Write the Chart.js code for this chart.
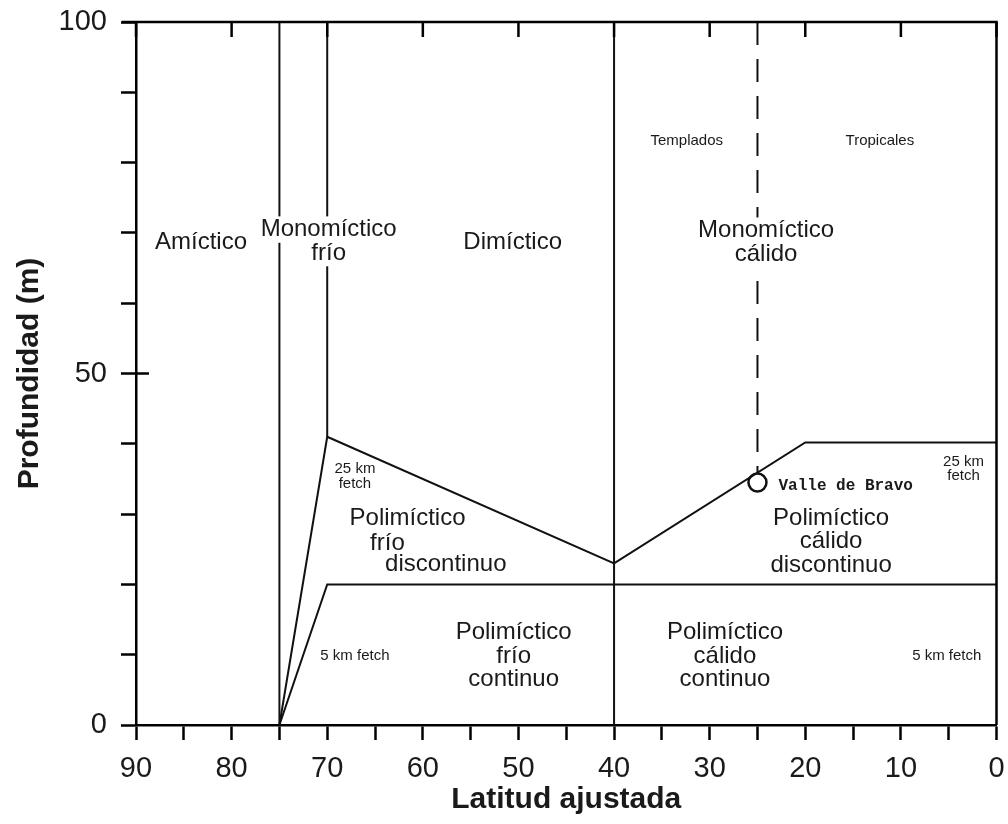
<!DOCTYPE html>
<html>
<head>
<meta charset="utf-8">
<script src="https://cdn.jsdelivr.net/npm/chart.js@4.4.1/dist/chart.umd.min.js"></script>
<style>
  html, body { margin: 0; padding: 0; background: #ffffff; }
  #wrap { width: 1008px; height: 824px; }
</style>
</head>
<body>
<div id="wrap"><canvas id="c" width="1008" height="824"></canvas></div>
<script>
// Lake mixing regimes by adjusted latitude (x, reversed) and depth (y)

// Boundary lines between regimes
const amicticX = [75, 75];
const amicticY = [0, 100];
const coldMonoX = [70, 70];
const coldMonoY = [41, 100];
const temperateX = [40, 40];
const temperateY = [0, 100];
const tropicalX = [25, 25];
const tropicalY = [100, 36];
const fetch25X = [75, 70, 40, 20, 0];
const fetch25Y = [0, 41, 23, 40.2, 40.2];
const fetch5X = [75, 70, 0];
const fetch5Y = [0, 20, 20];

// Valle de Bravo reservoir
const valleX = [25];
const valleY = [34.5];

// Tick labels
const xTickLabels = [90, 80, 70, 60, 50, 40, 30, 20, 10, 0];
const yTickLabels = [0, 50, 100];

// Region names, anchored in data units
const labelText = [
  'Amíctico', 'Monomíctico\nfrío', 'Dimíctico', 'Templados', 'Tropicales',
  'Monomíctico\ncálido', '25 km\nfetch', 'Polimíctico', 'frío', 'discontinuo',
  'Polimíctico\ncálido\ndiscontinuo', 'Valle de Bravo', '25 km\nfetch', '5 km fetch',
  'Polimíctico\nfrío\ncontinuo', 'Polimíctico\ncálido\ncontinuo', '5 km fetch'
];
const labelLat = [83.2, 69.85, 50.6, 32.4, 12.2, 24.1, 67.1, 61.6, 63.7, 57.6, 17.3, 22.8, 3.45, 67.1, 50.5, 28.4, 5.2];
const labelDepth = [68.6, 68.8, 68.6, 83.1, 83.1, 68.65, 35.4, 29.4, 25.9, 22.8, 26.1, 34.0, 36.4, 9.9, 9.8, 9.8, 9.9];
const labelKind = ['big', 'big', 'big', 'small', 'small', 'big', 'small', 'big', 'big', 'big', 'big', 'mono', 'small', 'small', 'big', 'big', 'small'];

const SANS = '"Liberation Sans", Arial, Helvetica, sans-serif';
const INK = '#1a1a1a';
const labelStyles = {
  big:   { font: '24px ' + SANS, size: 24, lh: 23.5, align: 'center' },
  small: { font: '15px ' + SANS, size: 15, lh: 14.5, align: 'center' },
  mono:  { font: 'bold 16px "Liberation Mono", "Courier New", monospace', size: 16, lh: 16, align: 'left' }
};

Chart.defaults.font.family = SANS;

const toPts = (xs, ys) => xs.map((v, i) => ({ x: v, y: ys[i] }));

const lineSet = (xs, ys, extra) => Object.assign({
  data: toPts(xs, ys),
  showLine: true,
  borderColor: '#111111',
  borderWidth: 2,
  pointRadius: 0,
  fill: false,
  clip: false,
  tension: 0
}, extra || {});

// Frame: top and right edges, inward top ticks, inner tick at 50 m
const framePlugin = {
  id: 'frame',
  afterDraw(chart) {
    const { ctx, chartArea: a, scales: { x, y } } = chart;
    ctx.save();
    ctx.strokeStyle = '#000000';
    ctx.lineWidth = 2.5;
    ctx.beginPath();
    ctx.moveTo(a.left - 14, a.top);
    ctx.lineTo(a.right, a.top);
    ctx.lineTo(a.right, a.bottom);
    ctx.stroke();
    xTickLabels.forEach(v => {
      const px = x.getPixelForValue(v);
      ctx.beginPath();
      ctx.moveTo(px, a.top);
      ctx.lineTo(px, a.top + 15);
      ctx.stroke();
    });
    const p50 = y.getPixelForValue(50);
    ctx.beginPath();
    ctx.moveTo(a.left, p50);
    ctx.lineTo(a.left + 13, p50);
    ctx.stroke();
    ctx.restore();
  }
};

// Region labels on white knock-out boxes
const labelPlugin = {
  id: 'regionLabels',
  afterDatasetsDraw(chart) {
    const { ctx, scales: { x, y } } = chart;
    ctx.save();
    labelText.forEach((txt, i) => {
      const st = labelStyles[labelKind[i]];
      const lines = txt.split('\n');
      const px = x.getPixelForValue(labelLat[i]);
      const py = y.getPixelForValue(labelDepth[i]);
      ctx.font = st.font;
      ctx.textAlign = st.align;
      ctx.textBaseline = 'middle';
      const top = py - (lines.length - 1) * st.lh / 2;
      lines.forEach((ln, k) => {
        const ly = top + k * st.lh;
        const w = ctx.measureText(ln).width;
        const x0 = st.align === 'left' ? px : px - w / 2;
        ctx.fillStyle = '#ffffff';
        ctx.fillRect(x0 - 3, ly - st.size * 0.55, w + 6, st.size * 1.1);
        ctx.fillStyle = INK;
        ctx.fillText(ln, px, ly);
      });
    });
    ctx.restore();
  }
};

new Chart(document.getElementById('c'), {
  type: 'scatter',
  data: {
    datasets: [
      lineSet(amicticX, amicticY),
      lineSet(coldMonoX, coldMonoY),
      lineSet(temperateX, temperateY),
      lineSet(tropicalX, tropicalY, { borderDash: [23, 14] }),
      lineSet(fetch25X, fetch25Y),
      lineSet(fetch5X, fetch5Y),
      {
        data: toPts(valleX, valleY),
        showLine: false,
        pointRadius: 9,
        pointBorderWidth: 2.5,
        pointBorderColor: '#111111',
        pointBackgroundColor: '#ffffff',
        clip: false
      }
    ]
  },
  options: {
    responsive: false,
    animation: false,
    events: [],
    layout: { padding: { top: 22, right: 10, bottom: 0, left: 0 } },
    plugins: { legend: { display: false }, tooltip: { enabled: false } },
    scales: {
      x: {
        type: 'linear',
        position: 'bottom',
        reverse: true,
        min: 0,
        max: 90,
        afterFit: (s) => { s.height = 99; s.paddingLeft = 0; s.paddingRight = 0; },
        ticks: {
          stepSize: 5,
          autoSkip: false,
          maxRotation: 0,
          padding: 12,
          color: INK,
          font: { size: 29 },
          callback: (v) => xTickLabels.includes(v) ? String(v) : ''
        },
        grid: { drawOnChartArea: false, drawTicks: true, tickLength: 15, tickWidth: 2.5, tickColor: '#000000' },
        border: { display: true, color: '#000000', width: 2.5 },
        title: {
          display: true,
          text: 'Latitud ajustada',
          color: INK,
          font: { size: 30, weight: 'bold' },
          padding: { top: 0, bottom: 6 }
        }
      },
      y: {
        type: 'linear',
        position: 'left',
        min: 0,
        max: 100,
        afterFit: (s) => { s.width = 136; s.paddingTop = 0; s.paddingBottom = 0; },
        ticks: {
          stepSize: 10,
          autoSkip: false,
          padding: 14,
          color: INK,
          font: { size: 29 },
          callback: (v) => yTickLabels.includes(v) ? String(v) : ''
        },
        grid: { drawOnChartArea: false, drawTicks: true, tickLength: 15, tickWidth: 2.5, tickColor: '#000000' },
        border: { display: true, color: '#000000', width: 2.5 },
        title: {
          display: true,
          text: 'Profundidad (m)',
          color: INK,
          font: { size: 30, weight: 'bold' },
          padding: { top: 12, bottom: 0 }
        }
      }
    }
  },
  plugins: [labelPlugin, framePlugin]
});
</script>
</body>
</html>
